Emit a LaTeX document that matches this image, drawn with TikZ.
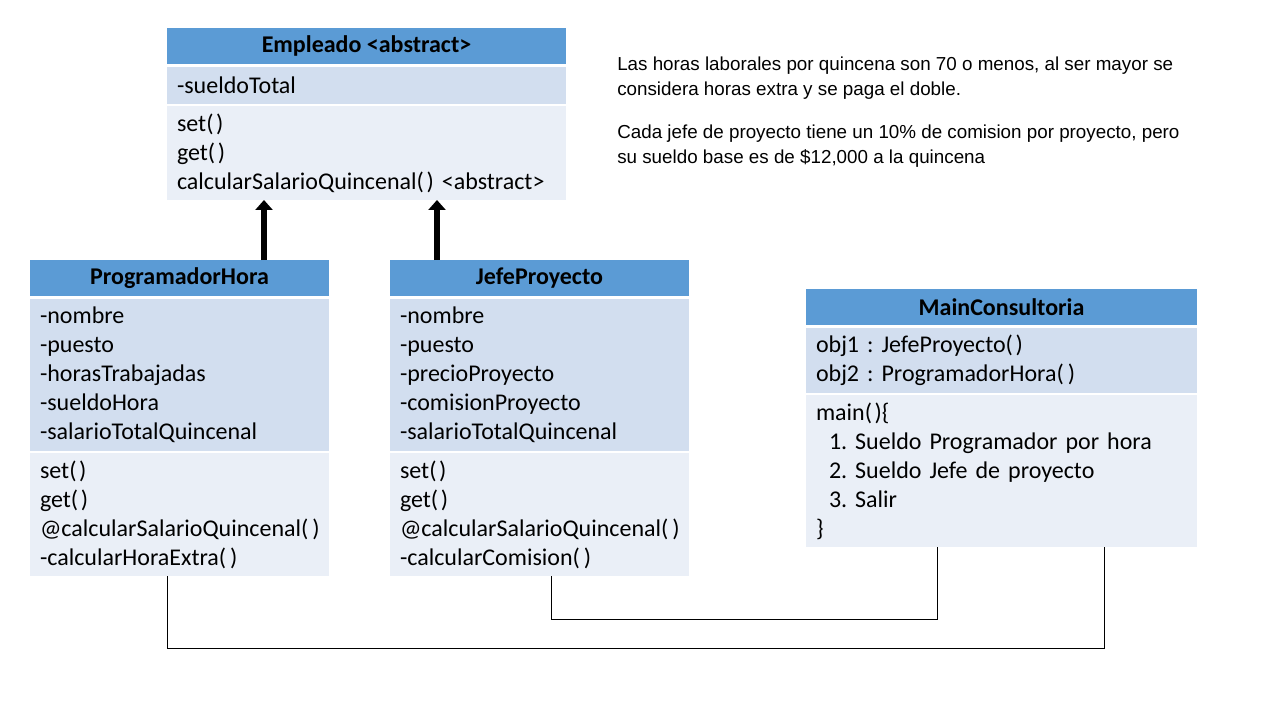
\documentclass[tikz,border=0pt]{standalone}
\usepackage{fontspec}
\setmainfont{Carlito}
\newfontfamily\notefont{Liberation Sans}
\usetikzlibrary{positioning,arrows.meta}
\frenchspacing

\definecolor{headblue}{HTML}{5B9BD5}
\definecolor{bandA}{HTML}{D2DEEF}
\definecolor{bandB}{HTML}{EAEFF7}

\tikzset{
  head/.style={fill=headblue, font=\fontsize{18}{21.75}\selectfont\bfseries,
    minimum height=27pt, inner sep=0pt, outer sep=0pt},
  band/.style={font=\fontsize{18}{21.75}\selectfont, inner xsep=7.5pt,
    inner ysep=0pt, outer sep=0pt, align=left},
  attrs/.style={band, fill=bandA},
  ops/.style={band, fill=bandB},
  inherit/.style={line width=4.5pt, -{Triangle[length=7.5pt,width=12.75pt]}},
  link/.style={line width=0.75pt},
}

\begin{document}
\begin{tikzpicture}[x=0.75pt,y=-0.75pt]
  \useasboundingbox (0,0) rectangle (1280,720);

  % Empleado
  \node[head, minimum width=299.25pt] (emp) at (366.5,46) {Empleado <abstract>};
  \node[attrs, text width=284.25pt, minimum height=27.75pt, below=2.25pt of emp] (empA)
    {-sueldoTotal};
  \node[ops, text width=284.25pt, minimum height=70.5pt, below=1.5pt of empA] (empM)
    {set(\hspace{2pt})\\ get(\hspace{2pt})\\ calcularSalarioQuincenal(\hspace{2pt})~<abstract>};

  % ProgramadorHora
  \node[head, minimum width=224.25pt] (prog) at (179.5,278) {ProgramadorHora};
  \node[attrs, text width=209.25pt, minimum height=114pt, below=2.25pt of prog] (progA)
    {-nombre\\ -puesto\\ -horasTrabajadas\\ -sueldoHora\\ -salarioTotalQuincenal};
  \node[ops, text width=209.25pt, minimum height=92.25pt, below=1.5pt of progA] (progM)
    {set(\hspace{2pt})\\ get(\hspace{2pt})\\ @calcularSalarioQuincenal(\,)\\ -calcularHoraExtra(\,)};

  % JefeProyecto
  \node[head, minimum width=224.25pt] (jefe) at (539.5,278) {JefeProyecto};
  \node[attrs, text width=209.25pt, minimum height=114pt, below=2.25pt of jefe] (jefeA)
    {-nombre\\ -puesto\\ -precioProyecto\\ -comisionProyecto\\ -salarioTotalQuincenal};
  \node[ops, text width=209.25pt, minimum height=92.25pt, below=1.5pt of jefeA] (jefeM)
    {set(\hspace{2pt})\\ get(\hspace{2pt})\\ @calcularSalarioQuincenal(\,)\\ -calcularComision(\,)};

  % MainConsultoria
  \node[head, minimum width=293.25pt] (main) at (1001.5,307) {MainConsultoria};
  \node[attrs, text width=278.25pt, minimum height=48.75pt, below=2.25pt of main] (mainA)
    {obj1 : JefeProyecto(\hspace{2pt})\\ obj2 : ProgramadorHora(\,)};
  \node[ops, text width=278.25pt, minimum height=114pt, below=1.5pt of mainA] (mainM)
    {main(\hspace{2pt})\{\\ \hspace*{9.75pt}1. Sueldo Programador por hora\\
     \hspace*{9.75pt}2. Sueldo Jefe de proyecto\\ \hspace*{9.75pt}3. Salir\\ \}};

  % note
  \node[font=\notefont\fontsize{14.1}{18.75}\selectfont, align=left, anchor=north west,
    inner sep=0pt] (note) at (617,57)
    {Las horas laborales por quincena son 70 o menos, al ser mayor se\\
     considera horas extra y se paga el doble.\\[13pt]
     Cada jefe de proyecto tiene un 10\% de comision por proyecto, pero\\
     su sueldo base es de \$12,000 a la quincena};

  % herencia
  \draw[inherit] ([xshift=63.375pt]prog.north) -- ([xshift=63.375pt]prog.north |- empM.south);
  \draw[inherit] ([xshift=-76.875pt]jefe.north) -- ([xshift=-76.875pt]jefe.north |- empM.south);

  % uso
  \draw[link] ([xshift=-9.375pt]progM.south) -- ++(0,72) -| ([xshift=76.875pt]mainM.south);
  \draw[link] ([xshift=8.625pt]jefeM.south) -- ++(0,43) -| ([xshift=-48.375pt]mainM.south);
\end{tikzpicture}
\end{document}
